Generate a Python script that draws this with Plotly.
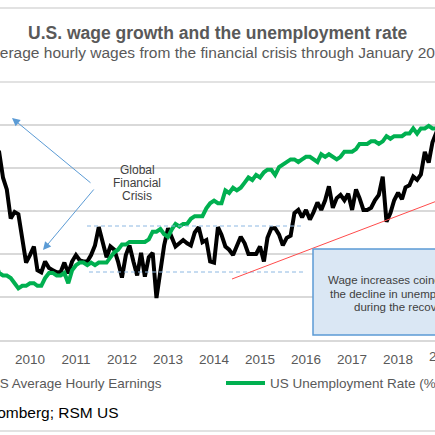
import pandas as pd
import plotly.graph_objects as go

# monthly values, March 2009 through January 2019
wage_growth = [
    3.02, 2.98, 2.95, 2.71, 2.60, 2.33, 2.39, 2.37, 2.13, 1.92,
    1.99, 2.07, 1.85, 1.83, 1.93, 1.87, 1.85, 1.83, 1.83, 1.92, 1.82, 1.93,
    1.99, 1.94, 1.93, 1.93, 1.99, 2.08, 2.25, 2.10, 1.97, 2.07, 2.04, 1.93,
    1.78, 1.99, 2.08, 1.93, 1.80, 2.01, 1.79, 1.97, 2.01, 1.59, 1.83, 2.08,
    2.24, 2.15, 2.07, 2.10, 2.13, 2.10, 2.08, 2.20, 2.25, 2.11, 2.13, 1.93,
    1.92, 2.25, 2.18, 2.07, 2.04, 1.99, 2.08, 2.16, 2.10, 2.00, 2.00, 2.00,
    2.07, 1.93, 2.15, 2.24, 2.24, 2.18, 2.08, 2.15, 2.17, 2.38, 2.41, 2.34,
    2.41, 2.32, 2.39, 2.48, 2.41, 2.50, 2.63, 2.43, 2.52, 2.55, 2.50, 2.56,
    2.41, 2.60, 2.52, 2.41, 2.41, 2.43, 2.50, 2.55, 2.72, 2.30, 2.38, 2.50,
    2.57, 2.51, 2.62, 2.64, 2.72, 2.69, 2.74, 2.95, 2.85, 3.04, 3.13, 3.15,
    3.20,
]
unemployment = [
    8.7, 9.0, 9.4, 9.5, 9.5, 9.6, 9.8, 10.0, 9.9, 9.9,
    9.8, 9.8, 9.9, 9.9, 9.6, 9.4, 9.4, 9.5, 9.5, 9.4, 9.8, 9.3,
    9.1, 9.0, 9.0, 9.1, 9.0, 9.1, 9.0, 9.0, 9.0, 8.8, 8.6, 8.5,
    8.3, 8.3, 8.2, 8.2, 8.2, 8.2, 8.2, 8.1, 7.8, 7.8, 7.7, 7.9,
    8.0, 7.7, 7.5, 7.6, 7.5, 7.5, 7.3, 7.2, 7.2, 7.2, 6.9, 6.7,
    6.6, 6.7, 6.7, 6.2, 6.3, 6.1, 6.2, 6.1, 5.9, 5.7, 5.8, 5.6,
    5.7, 5.5, 5.4, 5.4, 5.6, 5.3, 5.2, 5.1, 5.0, 5.0, 5.1, 5.0,
    4.9, 4.9, 5.0, 5.1, 4.8, 4.9, 4.8, 4.9, 5.0, 4.9, 4.7, 4.7,
    4.7, 4.6, 4.4, 4.4, 4.4, 4.3, 4.3, 4.4, 4.3, 4.1, 4.2, 4.1,
    4.1, 4.1, 4.0, 4.0, 3.8, 4.0, 3.8, 3.8, 3.7, 3.8, 3.8, 3.9,
    4.0,
]
months = pd.date_range("2009-03-01", periods=len(wage_growth), freq="MS")

FONT = "Liberation Sans, Arial, sans-serif"
GREY = "#595959"
GREEN = "#00b050"
BLUE = "#5b9bd5"

W, H = 435, 435
TOP, BOTTOM = 82, 340


# pixel -> paper helpers (plot area spans full width)
def px(x):
    return x / W


def py(y):
    return (BOTTOM - y) / (BOTTOM - TOP)


fig = go.Figure()
fig.add_trace(go.Scatter(x=months, y=wage_growth, name="US Average Hourly Earnings",
                         mode="lines", line=dict(color="black", width=4), yaxis="y"))
fig.add_trace(go.Scatter(x=months, y=unemployment, name="US Unemployment Rate (%)",
                         mode="lines", line=dict(color=GREEN, width=4), yaxis="y2"))

ann = []


def text(s, x, y, size, color=GREY, anchor="center", bold=False):
    ann.append(dict(text=f"<b>{s}</b>" if bold else s, x=px(x), y=py(y), xref="paper", yref="paper",
                    xanchor=anchor, yanchor="middle", showarrow=False,
                    font=dict(family=FONT, size=size, color=color)))


text("U.S. wage growth and the unemployment rate", 217, 33, 17.5, bold=True)
text("Average hourly wages from the financial crisis through January 2019", 217, 52, 15.5)

for s, y in [("Global", 170), ("Financial", 183), ("Crisis", 196)]:
    text(s, 137, y, 12, color="#404040")

for s, y in [("Wage increases coincide with", 280), ("the decline in unemployment", 293.5),
             ("during the recovery", 307)]:
    text(s, 403, y, 11.5, color="#404040")

# last year label sits just past the right edge of the crop
text("2019", 444, 356, 13.5)

text("US Average Hourly Earnings", 164, 383, 13.5, anchor="right")
text("US Unemployment Rate (%)", 268, 383, 13.5, anchor="left")
text("Source: Bloomberg; RSM US", 121, 412, 15.5, color="#000000", anchor="right")

# arrows pointing at the crisis period
for hx, hy, tx, ty in [(12, 118, 92, 184), (43, 250, 95, 188)]:
    ann.append(dict(x=px(hx), y=py(hy), xref="paper", yref="paper", ax=tx - hx, ay=ty - hy,
                    showarrow=True, arrowhead=2, arrowsize=1.6, arrowwidth=1, arrowcolor=BLUE, text=""))

shapes = [
    # frame lines of the graphic
    dict(type="line", xref="paper", yref="paper", x0=0, x1=1, y0=py(8), y1=py(8),
         line=dict(color="#d9d9d9", width=1.5)),
    dict(type="line", xref="paper", yref="paper", x0=0, x1=1, y0=py(82), y1=py(82),
         line=dict(color="#d9d9d9", width=1.5)),
    dict(type="line", xref="paper", yref="paper", x0=0, x1=1, y0=py(431), y1=py(431),
         line=dict(color="#d9d9d9", width=1.5)),
    # dashed range band
    dict(type="line", xref="paper", yref="paper", x0=px(87), x1=px(302), y0=py(226), y1=py(226),
         line=dict(color="#8db8e2", width=1, dash="4px,3px")),
    dict(type="line", xref="paper", yref="paper", x0=px(89), x1=px(303), y0=py(272), y1=py(272),
         line=dict(color="#8db8e2", width=1, dash="4px,3px")),
    # trend line
    dict(type="line", xref="paper", yref="paper", x0=px(232), x1=px(500), y0=py(279), y1=py(177),
         line=dict(color="#ff4b4b", width=1)),
    # callout box
    dict(type="rect", xref="paper", yref="paper", x0=px(313), x1=px(495), y0=py(335), y1=py(249),
         fillcolor="#dae7f4", line=dict(color=BLUE, width=1.5), layer="above"),
    # legend swatch
    dict(type="line", xref="paper", yref="paper", x0=px(226), x1=px(265), y0=py(383), y1=py(383),
         line=dict(color=GREEN, width=4)),
]

fig.update_layout(
    width=W, height=H,
    margin=dict(l=0, r=0, t=TOP, b=H - BOTTOM),
    paper_bgcolor="white", plot_bgcolor="white",
    showlegend=False,
    font=dict(family=FONT, color=GREY),
    xaxis=dict(type="date", range=["2009-05-08", "2018-10-21"], dtick="M12", tick0="2010-01-01",
               tickformat="%Y", showgrid=False, showline=True, linecolor="#d9d9d9", linewidth=1.5,
               ticks="", tickfont=dict(size=13.5, color=GREY), ticklabelstandoff=6, zeroline=False),
    yaxis=dict(range=[1.2, 3.6], dtick=0.4, tick0=1.2, showticklabels=False, gridcolor="#d9d9d9",
               gridwidth=1.5, zeroline=False),
    yaxis2=dict(range=[12, 2], overlaying="y", side="right", showticklabels=False, showgrid=False,
                zeroline=False),
    annotations=ann,
    shapes=shapes,
)

# the page body has a default margin; drop it so the figure fills the window
fig.write_html("out.html", config={"displayModeBar": False},
               post_script="document.body.style.margin='0';document.body.style.overflow='hidden';")
